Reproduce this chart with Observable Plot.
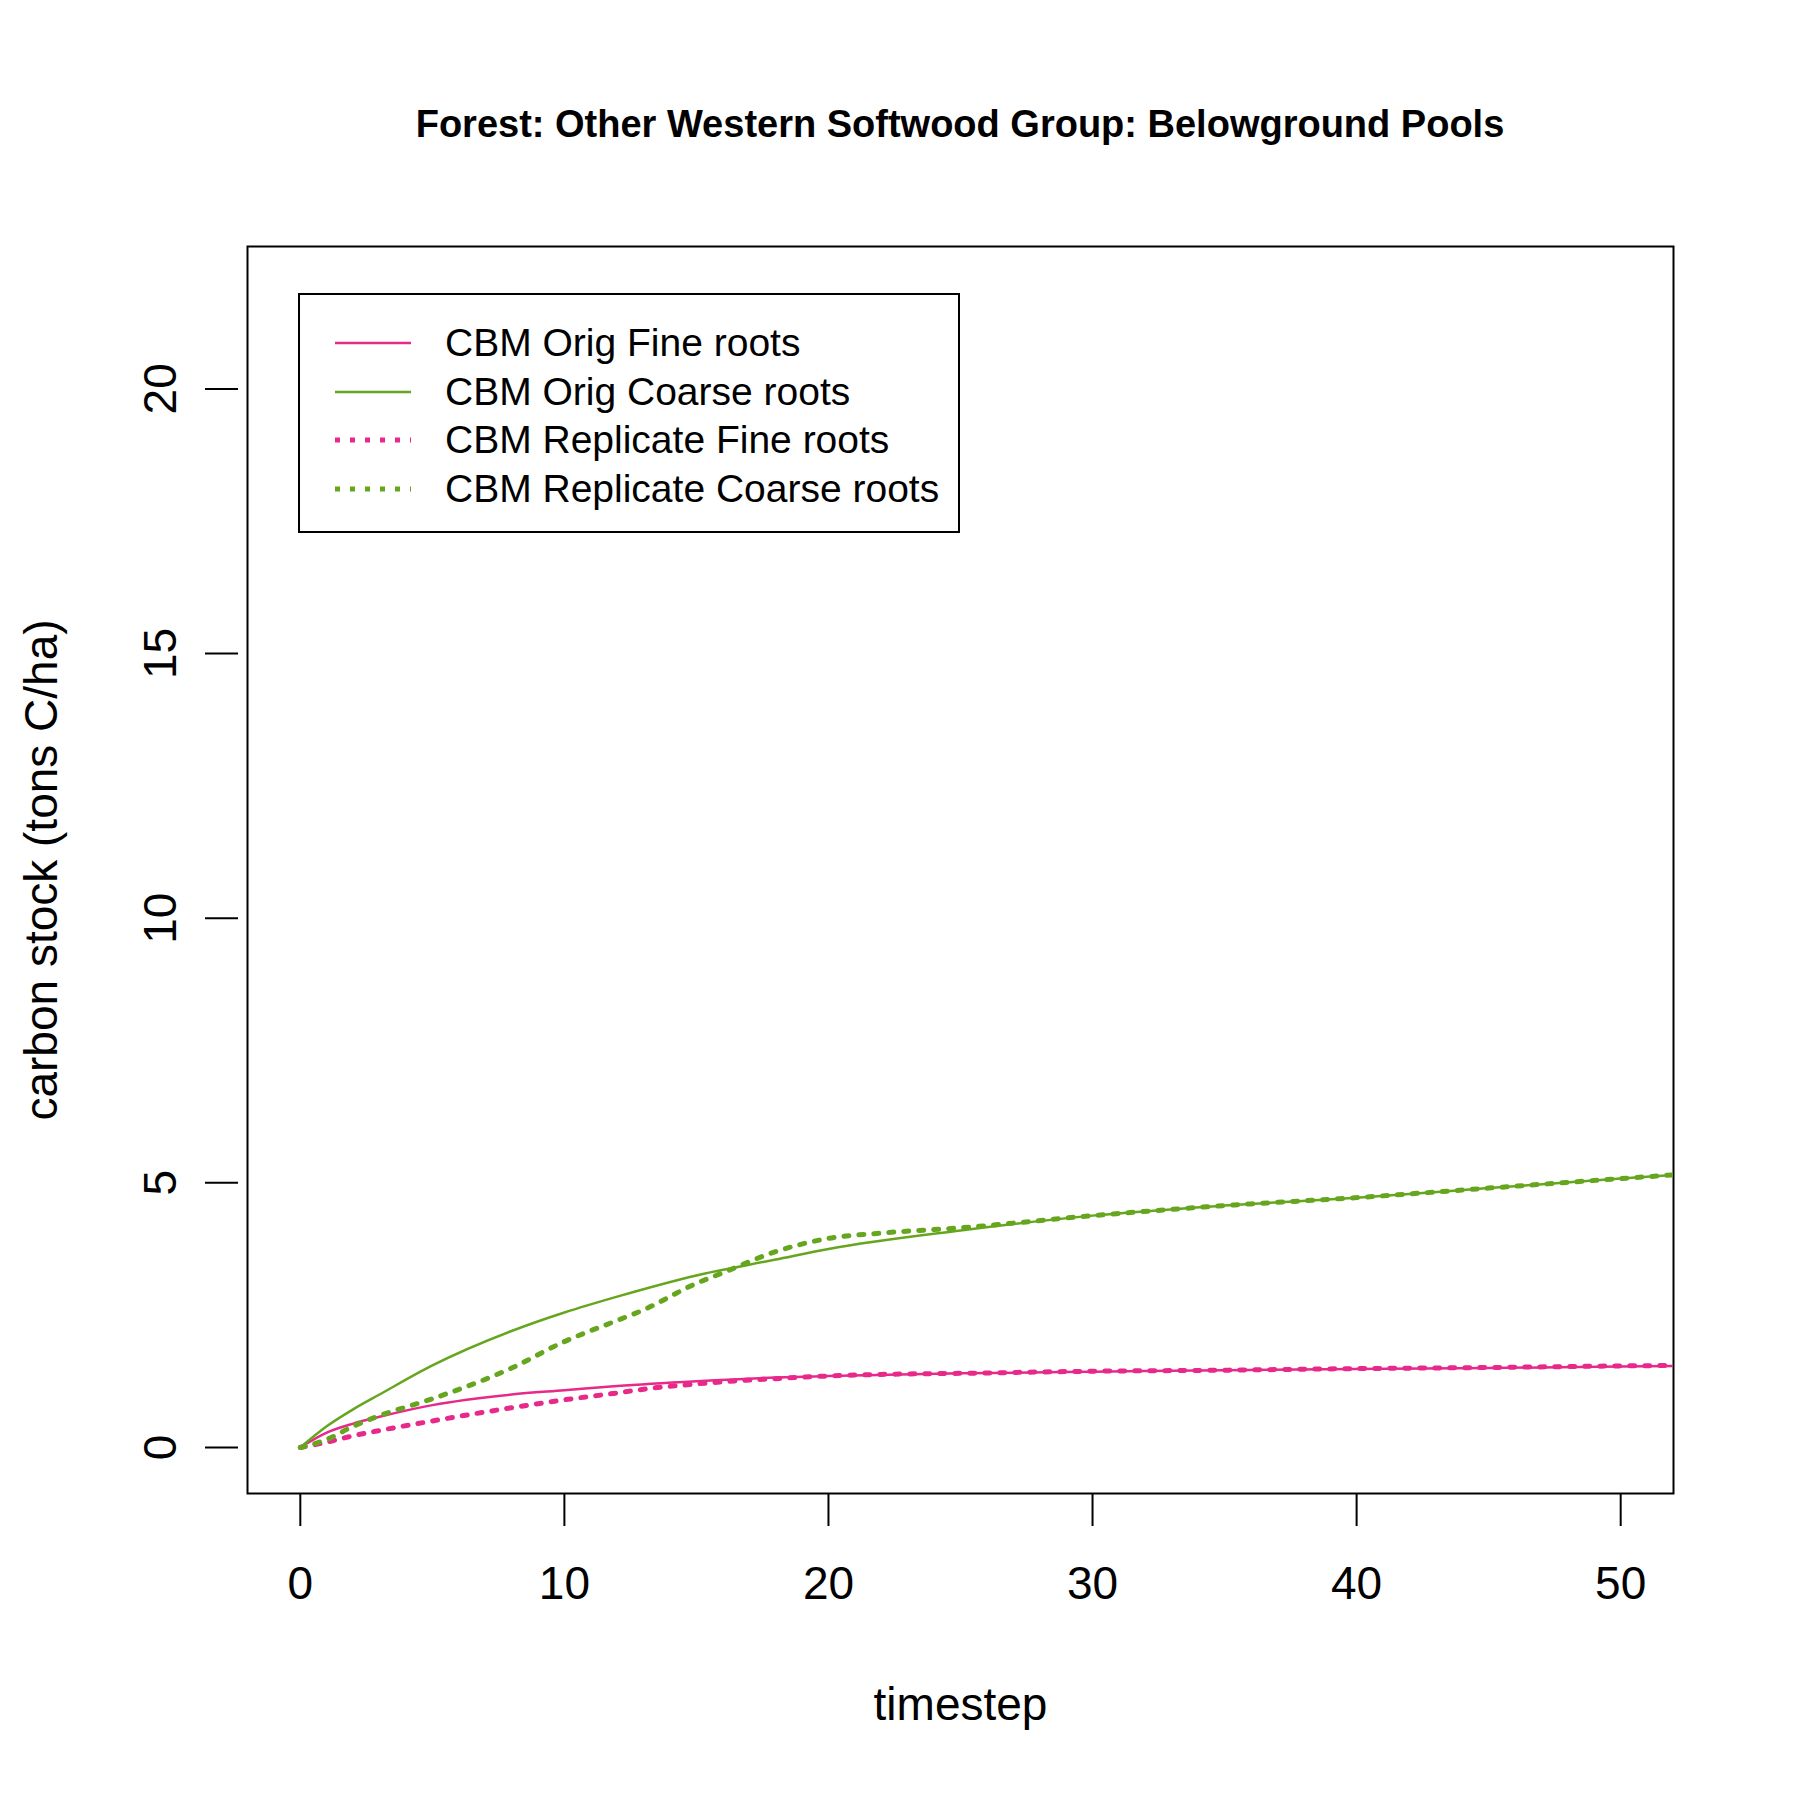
<!DOCTYPE html>
<html>
<head>
<meta charset="utf-8">
<script src="https://cdn.jsdelivr.net/npm/d3@7"></script>
<script src="https://cdn.jsdelivr.net/npm/@observablehq/plot@0.6"></script>
<style>
  body { margin: 0; background: #fff; font-family: Arial, "Liberation Sans", sans-serif; }
  #wrap { position: relative; width: 1800px; height: 1800px; }
  #title { height: 200px; text-align: center; font-weight: bold; font-size: 38px; line-height: 1; padding-top: 105px; box-sizing: border-box; padding-left: 120px; }
  #legend { position: absolute; left: 298px; top: 293px; width: 662px; height: 240px; border: 2px solid #000; box-sizing: border-box; background: #fff; }
  .row { position: absolute; left: 0; height: 48px; font-size: 39px; }
  .row svg { position: absolute; left: 33px; top: 0; }
  .row span { position: absolute; left: 145px; top: 0; line-height: 48px; white-space: nowrap; }
</style>
</head>
<body>
<div id="wrap">
  <div id="title">Forest: Other Western Softwood Group: Belowground Pools</div>
  <div id="chart"></div>
  <div id="legend"></div>
</div>
<script>
const pink = "#E7298A";
const green = "#66A61E";

const origSteps = [0, 1, 2, 3, 5, 8, 10, 12, 15, 18, 20, 25, 30, 35, 40, 45, 50, 52];
const origFine = [0, 0.28, 0.45, 0.58, 0.8, 1.0, 1.08, 1.16, 1.25, 1.32, 1.35, 1.4, 1.43, 1.46, 1.48, 1.5, 1.53, 1.54];
const origCoarse = [0, 0.4, 0.72, 1.0, 1.55, 2.2, 2.55, 2.85, 3.25, 3.55, 3.75, 4.1, 4.38, 4.57, 4.72, 4.9, 5.08, 5.15];

const repSteps = [0, 1, 2, 3, 5, 8, 10, 12, 13, 15, 16, 18, 20, 22, 25, 30, 35, 40, 45, 50, 52];
const repFine = [0, 0.1, 0.22, 0.32, 0.5, 0.75, 0.9, 1.03, 1.1, 1.2, 1.24, 1.3, 1.35, 1.38, 1.4, 1.44, 1.46, 1.49, 1.51, 1.54, 1.55];
const repCoarse = [0, 0.15, 0.4, 0.6, 0.92, 1.5, 2.0, 2.4, 2.6, 3.1, 3.3, 3.7, 3.95, 4.05, 4.15, 4.38, 4.57, 4.72, 4.9, 5.08, 5.15];

const yTicks = [0, 5, 10, 15, 20];
const xTicks = [0, 10, 20, 30, 40, 50];

const series = [
  {name: "CBM Orig Fine roots", steps: origSteps, vals: origFine, color: pink, dash: null},
  {name: "CBM Orig Coarse roots", steps: origSteps, vals: origCoarse, color: green, dash: null},
  {name: "CBM Replicate Fine roots", steps: repSteps, vals: repFine, color: pink, dash: "5 10"},
  {name: "CBM Replicate Coarse roots", steps: repSteps, vals: repCoarse, color: green, dash: "5 10"}
];

const marks = series.map(s => Plot.line(s.steps.map((t, i) => ({t, v: s.vals[i]})), {
  x: "t", y: "v", stroke: s.color,
  strokeWidth: s.dash ? 5 : 2.5,
  strokeDasharray: s.dash || undefined,
  curve: "monotone-x", clip: true
}));

const chart = Plot.plot({
  width: 1800, height: 1600,
  marginTop: 46, marginBottom: 307, marginLeft: 247, marginRight: 127,
  style: {fontFamily: "Arial, 'Liberation Sans', sans-serif", fontSize: "44px", color: "#000"},
  x: {domain: [-2, 52], ticks: xTicks, label: null},
  y: {domain: [-0.87, 22.69], ticks: yTicks, label: null},
  marks: [
    Plot.frame({stroke: "#000", strokeWidth: 2}),
    ...marks,
    Plot.axisX({ticks: xTicks, tickSize: 33, tickPadding: 40, strokeWidth: 2, fontSize: 46, label: null}),
    Plot.axisY({ticks: yTicks, tickSize: 33, tickPadding: 30, tickRotate: -90, strokeWidth: 2, fontSize: 46, label: null, textAnchor: "middle", dx: -9}),
    Plot.text(["timestep"], {frameAnchor: "bottom", dy: 212, fontSize: 46, lineAnchor: "middle"}),
    Plot.text(["carbon stock (tons C/ha)"], {frameAnchor: "left", dx: -205, rotate: -90, fontSize: 46, textAnchor: "middle", lineAnchor: "middle"})
  ]
});
document.getElementById("chart").appendChild(chart);

const legend = document.getElementById("legend");
series.forEach((s, i) => {
  const row = document.createElement("div");
  row.className = "row";
  row.style.top = (24 + i * 48.5) + "px";
  row.style.width = "100%";
  row.innerHTML = `<svg width="80" height="48"><line x1="2" x2="78" y1="24" y2="24" stroke="${s.color}" stroke-width="${s.dash ? 5 : 2.5}" ${s.dash ? `stroke-dasharray="${s.dash}"` : ""}/></svg><span>${s.name}</span>`;
  legend.appendChild(row);
});
</script>
</body>
</html>
